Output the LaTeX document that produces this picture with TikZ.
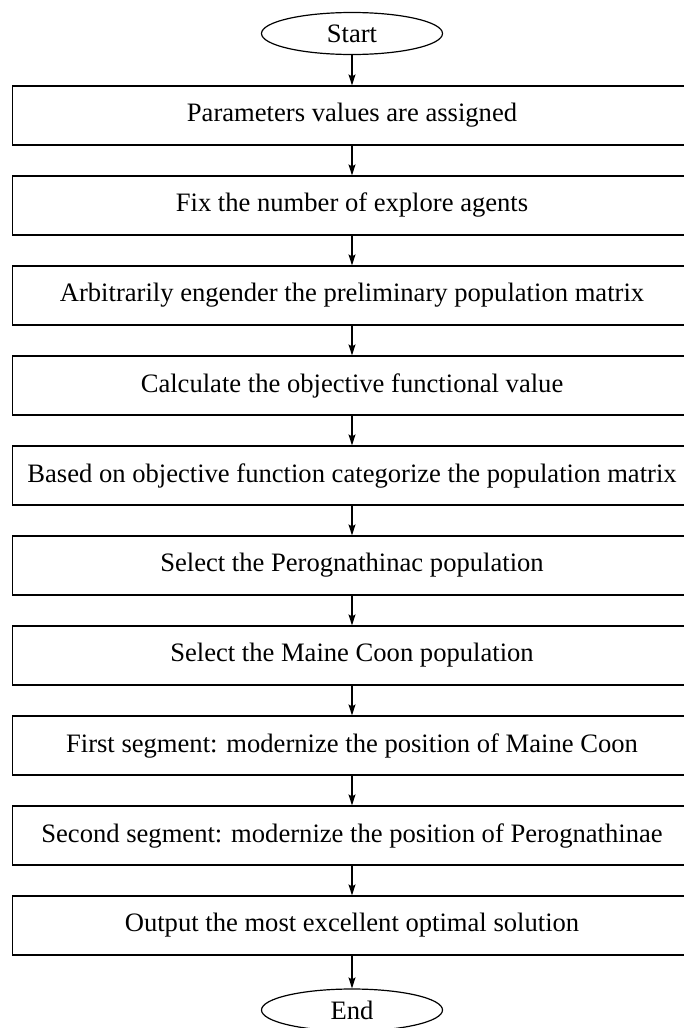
\documentclass[tikz,border=0pt]{standalone}
\usepackage{fontspec}
\setmainfont{Liberation Serif}
\usetikzlibrary{shapes.geometric,arrows.meta}
\begin{document}
\begin{tikzpicture}[x=1pt,y=-1pt,line width=1.2pt,
    font=\fontsize{26.6}{30}\selectfont,
    box/.style={draw,minimum width=679.4pt,minimum height=59pt,inner sep=0pt},
    term/.style={draw,ellipse,minimum width=181pt,minimum height=42pt,inner sep=0pt}]
      \useasboundingbox (0,0) rectangle (683,1028);
      \draw
        (352,33.5) node[term] (0){Start}
        (352,115.5) node[box] (1){Parameters values are assigned}
        (352,205.5) node[box] (2){Fix the number of explore agents}
        (352,295.5) node[box] (3){Arbitrarily engender the preliminary population matrix}
        (352,385.5) node[box] (4){Calculate the objective functional value}
        (352,475.5) node[box] (5){Based on objective function categorize the population matrix}
        (352,565.5) node[box] (6){Select the Perognathinac population}
        (352,655.5) node[box] (7){Select the Maine Coon population}
        (352,745.5) node[box] (8){First segment: modernize the position of Maine Coon}
        (352,835.5) node[box] (9){Second segment: modernize the position of Perognathinae}
        (352,925.5) node[box] (10){Output the most excellent optimal solution}
        (352,1010) node[term] (11){End};
      \begin{scope}[-{Stealth[length=11pt,width=7pt,inset=2pt]}]
        \draw (0) to (1);
        \draw (1) to (2);
        \draw (2) to (3);
        \draw (3) to (4);
        \draw (4) to (5);
        \draw (5) to (6);
        \draw (6) to (7);
        \draw (7) to (8);
        \draw (8) to (9);
        \draw (9) to (10);
        \draw (10) to (11);
      \end{scope}
    \end{tikzpicture}
\end{document}
